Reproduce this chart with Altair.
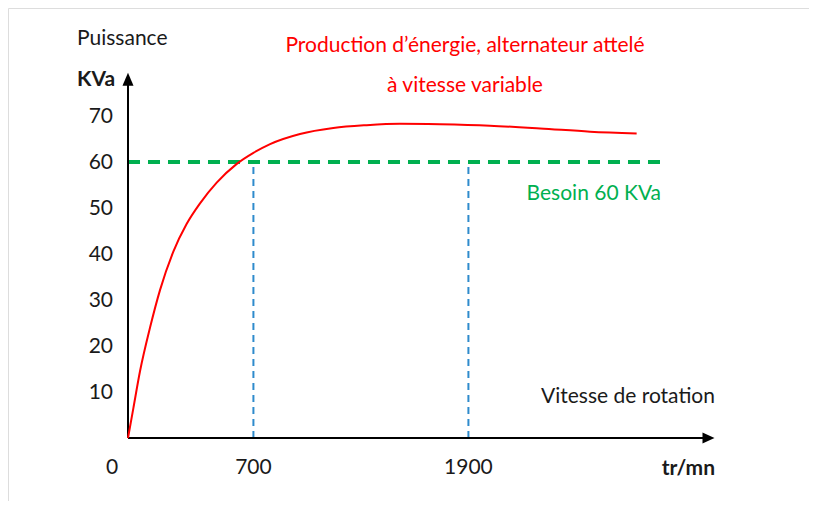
import altair as alt
import pandas as pd

# ---- data ----
speed = [0, 30, 67, 123, 179, 253, 327, 402, 495, 607, 700, 793, 960, 1146,
         1332, 1518, 1741, 2020, 2300, 2579, 2839]
power = [0, 6.5, 14.5, 24.0, 32.2, 40.5, 46.5, 51.0, 55.5, 59.6, 62.0, 63.9,
         66.1, 67.4, 68.0, 68.3, 68.2, 67.9, 67.3, 66.6, 66.2]
y_ticks = [10, 20, 30, 40, 50, 60, 70]
x_ticks = [700, 1900]
need_kva = 60
need_end = 2980
x_axis_end = 3240
y_axis_end = 78

FONT = "Lato, Open Sans, sans-serif"
FS = 21

xs = alt.Scale(domain=[0, 3000], range=[120, 657.5], nice=False, zero=False)
ys = alt.Scale(domain=[0, 70], range=[430, 108], nice=False, zero=False)

curve_df = pd.DataFrame({"speed": speed, "power": power})
ytick_df = pd.DataFrame({"v": y_ticks, "lab": [str(v) for v in y_ticks]})
xtick_df = pd.DataFrame({"v": x_ticks, "lab": [str(v) for v in x_ticks]})

X = lambda f: alt.X(f, type="quantitative", scale=xs, axis=None)
Y = lambda f: alt.Y(f, type="quantitative", scale=ys, axis=None)

curve = alt.Chart(curve_df).mark_line(color="#ff0000", strokeWidth=2, interpolate="monotone").encode(
    x=X("speed"), y=Y("power"))

need_df = pd.DataFrame({"x0": [0], "x1": [need_end], "y": [need_kva]})
need = alt.Chart(need_df).mark_rule(color="#00b050", strokeWidth=4, strokeDash=[12, 8]).encode(
    x=X("x0"), x2="x1", y=Y("y"))

vl_df = pd.DataFrame({"x": x_ticks, "y0": [0] * len(x_ticks), "y1": [need_kva] * len(x_ticks)})
vlines = alt.Chart(vl_df).mark_rule(color="#2e8bcc", strokeWidth=2, strokeDash=[7, 5]).encode(
    x=X("x"), y=Y("y0"), y2="y1")

ax_df = pd.DataFrame({"x0": [0], "x1": [x_axis_end], "y0": [0], "y1": [y_axis_end]})
xaxis = alt.Chart(ax_df).mark_rule(color="black", strokeWidth=2).encode(x=X("x0"), x2="x1", y=Y("y0"))
yaxis = alt.Chart(ax_df).mark_rule(color="black", strokeWidth=2).encode(x=X("x0"), y=Y("y0"), y2="y1")

xarrow = alt.Chart(ax_df).mark_point(shape="M-1,-0.9L1,0L-1,0.9Z", size=144, filled=True,
                                     color="black", opacity=1).encode(x=X("x1"), y=Y("y0"))
yarrow = alt.Chart(ax_df).mark_point(shape="M0,-1L0.85,1L-0.85,1Z", size=169, filled=True,
                                     color="black", opacity=1).encode(x=X("x0"), y=Y("y1"))

ylabels = alt.Chart(ytick_df).mark_text(font=FONT, fontSize=FS, align="right", baseline="middle",
                                        color="#1a1a1a", dy=1).encode(
    y=Y("v"), x=alt.value(105), text="lab:N")
xlabels = alt.Chart(xtick_df).mark_text(font=FONT, fontSize=FS, align="center", baseline="middle",
                                        color="#1a1a1a").encode(
    x=X("v"), y=alt.value(460), text="lab:N")
zero_df = pd.DataFrame({"v": [0], "lab": ["0"]})
zlabel = alt.Chart(zero_df).mark_text(font=FONT, fontSize=FS, align="center", baseline="middle",
                                      color="#1a1a1a", dx=-16).encode(
    x=X("v"), y=alt.value(460), text="lab:N")


def label(txt, x, y, align="left", color="#1a1a1a", weight="normal", size=FS):
    return alt.Chart(pd.DataFrame({"t": [txt]})).mark_text(
        font=FONT, fontSize=size, align=align, baseline="middle", color=color, fontWeight=weight
    ).encode(x=alt.value(x), y=alt.value(y), text="t:N")


texts = [
    label("Puissance", 69, 31),
    label("KVa", 69, 72, weight="bold"),
    label("Production d\u2019énergie, alternateur attelé", 457, 38, align="center", color="#ff0000"),
    label("à vitesse variable", 457, 78, align="center", color="#ff0000"),
    label("Besoin 60 KVa", 653, 186, align="right", color="#00b050"),
    label("Vitesse de rotation", 707, 389, align="right"),
    label("tr/mn", 707, 461, align="right", weight="bold"),
]

chart = alt.layer(need, vlines, xaxis, yaxis, xarrow, yarrow, curve, ylabels, xlabels, zlabel, *texts).properties(
    width=801, height=493, autosize=alt.AutoSizeParams(type="none"), padding=0
).configure_view(stroke=None).configure(background="white")

chart.save("out.html", embed_options={"renderer": "svg", "actions": False})
